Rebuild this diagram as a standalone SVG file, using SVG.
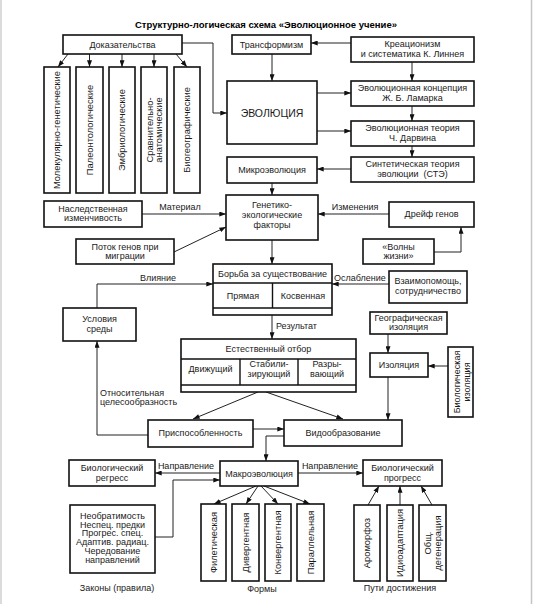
<svg xmlns="http://www.w3.org/2000/svg" width="533" height="604" viewBox="0 0 533 604">
<defs>
<style>
text{font-family:"Liberation Sans",Arial,sans-serif;font-size:9px;fill:#1a1a1a;text-anchor:middle}
.t{font-weight:bold;font-size:9.5px;fill:#000}
.big{font-size:10.5px}
.l{text-anchor:start}
.v{font-size:9.3px}
rect{fill:#fff;stroke:#111;stroke-width:1.6}
.div{stroke:#111;stroke-width:1.4;fill:none}
#connectors path{fill:none;stroke:#222;stroke-width:1}
</style>
<marker id="a" viewBox="0 0 8 6" refX="8" refY="3" markerWidth="7" markerHeight="5" orient="auto" markerUnits="userSpaceOnUse"><path d="M0,0 L8,3 L0,6 z" fill="#111"/></marker>
</defs>
<rect x="0" y="0" width="533" height="604" style="fill:#fff;stroke:none"/>
<line x1="1" y1="0" x2="1" y2="604" stroke="#cfcfcf" stroke-width="1.5"/>
<line x1="531.5" y1="0" x2="531.5" y2="604" stroke="#c4c4c4" stroke-width="1.5"/>

<text class="t" x="266" y="28">Структурно-логическая схема «Эволюционное учение»</text>

<g id="connectors" marker-end="url(#a)">
<path d="M68,54 L58,67"/>
<path d="M89.5,54 V67"/>
<path d="M122,54 V67"/>
<path d="M154,54 V67"/>
<path d="M176,54 L187,67"/>
<path d="M182,43 H213 V113 H227"/>
<path d="M351,43 H311"/>
<path d="M272,54 V81"/>
<path d="M317,93 H351"/>
<path d="M317,131 H351"/>
<path d="M412,62 V81"/>
<path d="M412,106 V121"/>
<path d="M412,146 V157"/>
<path d="M351,169 H317"/>
<path d="M272,183 V195"/>
<path d="M142,214 H226"/>
<path d="M174,252 L226,227"/>
<path d="M389,214 H318"/>
<path d="M434,252 H461 V227"/>
<path d="M272,240 V264"/>
<path d="M389,284 H332"/>
<path d="M97,308 V284 H213"/>
<path d="M272,315 V339"/>
<path d="M258,392 L193,419"/>
<path d="M266,392 L343,419"/>
<path d="M253,429 H284"/>
<path d="M148,435 H97 V341"/>
<path d="M284,436 H266 V461"/>
<path d="M388,334 V353"/>
<path d="M448,366 H428"/>
<path d="M388,377 V420"/>
<path d="M220,473 H155"/>
<path d="M155,537 H173 V480 H220"/>
<path d="M298,473 H363"/>
<path d="M256,486 L214,504"/>
<path d="M258,486 L246,504"/>
<path d="M261,486 L278,504"/>
<path d="M264,486 L310,504"/>
<path d="M368,505 L379,486"/>
<path d="M400,505 V486"/>
<path d="M432,505 L421,486"/>
</g>

<g id="labels">
<text x="180" y="210">Материал</text>
<text x="355" y="210">Изменения</text>
<text x="158" y="281">Влияние</text>
<text x="360" y="281">Ослабление</text>
<text class="l" x="276" y="329">Результат</text>
<text class="l" x="100" y="396">Относительная</text>
<text class="l" x="100" y="405">целесообразность</text>
<text x="186" y="469">Направление</text>
<text x="330" y="469">Направление</text>
<text x="117" y="591">Законы (правила)</text>
<text x="262" y="592">Формы</text>
<text x="400" y="591">Пути достижения</text>
</g>

<g id="dokazatelstva"><rect x="63" y="35" width="119" height="19"/><text x="122.5" y="47.5">Доказательства</text></g>
<g id="mol"><rect x="44" y="67" width="26" height="126"/><text class="v" transform="translate(57,130) rotate(-90)" y="3.3">Молекулярно-генетические</text></g>
<g id="paleo"><rect x="76" y="67" width="27" height="126"/><text class="v" transform="translate(89.5,130) rotate(-90)" y="3.3">Палеонтологические</text></g>
<g id="embrio"><rect x="109" y="67" width="26" height="126"/><text class="v" transform="translate(122,130) rotate(-90)" y="3.3">Эмбриологические</text></g>
<g id="sravn"><rect x="141" y="67" width="26" height="126"/><text class="v" transform="translate(154,130) rotate(-90)"><tspan x="0" y="-1.3">Сравнительно-</tspan><tspan x="0" y="8.3">анатомические</tspan></text></g>
<g id="biogeo"><rect x="174" y="67" width="26" height="126"/><text class="v" transform="translate(187,130) rotate(-90)" y="3.3">Биогеографические</text></g>

<g id="transform"><rect x="232" y="35" width="79" height="19"/><text x="271.5" y="47.5">Трансформизм</text></g>
<g id="kreac"><rect x="351" y="37" width="123" height="25"/><text x="412.5" y="46.5">Креационизм</text><text x="412.5" y="56.5">и систематика К. Линнея</text></g>
<g id="evol"><rect x="227" y="81" width="90" height="63"/><text class="big" x="272" y="117">ЭВОЛЮЦИЯ</text></g>
<g id="lamark"><rect x="351" y="81" width="123" height="25"/><text x="412.5" y="91">Эволюционная концепция</text><text x="412.5" y="101">Ж. Б. Ламарка</text></g>
<g id="darwin"><rect x="351" y="121" width="123" height="25"/><text x="412.5" y="131">Эволюционная теория</text><text x="412.5" y="140.5">Ч. Дарвина</text></g>
<g id="ste"><rect x="351" y="157" width="123" height="25"/><text x="412.5" y="167">Синтетическая теория</text><text x="412.5" y="176.5" xml:space="preserve">эволюции  (СТЭ)</text></g>
<g id="mikro"><rect x="227" y="157" width="90" height="26"/><text x="272" y="173">Микроэволюция</text></g>
<g id="genetiko"><rect x="226" y="195" width="92" height="45"/><text x="272" y="208">Генетико-</text><text x="272" y="218">экологические</text><text x="272" y="227.5">факторы</text></g>
<g id="nasl"><rect x="44" y="201" width="98" height="26"/><text x="93" y="212">Наследственная</text><text x="93" y="221">изменчивость</text></g>
<g id="potok"><rect x="76" y="239" width="98" height="25"/><text x="125" y="250">Поток генов при</text><text x="125" y="259">миграции</text></g>
<g id="dreif"><rect x="389" y="202" width="85" height="25"/><text x="431.5" y="217">Дрейф генов</text></g>
<g id="volny"><rect x="363" y="239" width="71" height="25"/><text x="398.5" y="250">«Волны</text><text x="398.5" y="259">жизни»</text></g>
<g id="borba"><rect x="213" y="264" width="119" height="51"/><path class="div" d="M213,283 H332 M272.5,283 V308 M213,308 H332"/><text x="272.5" y="277">Борьба за существование</text><text x="243" y="299">Прямая</text><text x="303" y="299">Косвенная</text></g>
<g id="vzaimo"><rect x="389" y="271" width="78" height="32"/><text x="428" y="284">Взаимопомощь,</text><text x="428" y="294">сотрудничество</text></g>
<g id="usloviya"><rect x="63" y="308" width="73" height="33"/><text x="99.5" y="322">Условия</text><text x="99.5" y="332">среды</text></g>
<g id="geo"><rect x="370" y="312" width="77" height="22"/><text x="408.5" y="321">Географическая</text><text x="408.5" y="330">изоляция</text></g>
<g id="otbor"><rect x="181" y="339" width="175" height="53"/><path class="div" d="M181,359 H356 M240,359 V385 M298,359 V385 M181,385 H356"/><text x="268.5" y="352">Естественный отбор</text><text x="210.5" y="372">Движущий</text><text x="269" y="367">Стабили-</text><text x="269" y="377">зирующий</text><text x="327" y="367">Разры-</text><text x="327" y="377">вающий</text></g>
<g id="izol"><rect x="370" y="353" width="58" height="24"/><text x="399" y="368">Изоляция</text></g>
<g id="biolizol"><rect x="448" y="347" width="25" height="70"/><text transform="translate(460.5,382) rotate(-90)"><tspan x="0" y="-0.5">Биологическая</tspan><tspan x="0" y="9">изоляция</tspan></text></g>
<g id="prisp"><rect x="148" y="420" width="105" height="27"/><text x="200.5" y="436">Приспособленность</text></g>
<g id="vidoobr"><rect x="284" y="420" width="118" height="26"/><text x="343" y="436">Видообразование</text></g>
<g id="makro"><rect x="220" y="461" width="78" height="25"/><text x="259" y="477">Макроэволюция</text></g>
<g id="regress"><rect x="69" y="460" width="86" height="26"/><text x="112" y="471">Биологический</text><text x="112" y="481">регресс</text></g>
<g id="progress"><rect x="363" y="460" width="79" height="26"/><text x="402.5" y="471">Биологический</text><text x="402.5" y="481">прогресс</text></g>
<g id="zakony"><rect x="70" y="505" width="85" height="68"/><text x="112.5" y="519">Необратимость</text><text x="112.5" y="527.7">Неспец. предки</text><text x="112.5" y="536.4">Прогрес. спец.</text><text x="112.5" y="545.1">Адаптив. радиац.</text><text x="112.5" y="553.8">Чередование</text><text x="112.5" y="562.5">направлений</text></g>
<g id="filet"><rect x="201" y="504" width="25" height="77"/><text class="v" transform="translate(213.5,542.5) rotate(-90)" y="3.3">Филетическая</text></g>
<g id="diverg"><rect x="232" y="504" width="27" height="77"/><text class="v" transform="translate(245.5,542.5) rotate(-90)" y="3.3">Дивергентная</text></g>
<g id="konverg"><rect x="265" y="504" width="26" height="77"/><text class="v" transform="translate(278,542.5) rotate(-90)" y="3.3">Конвергентная</text></g>
<g id="parall"><rect x="297" y="504" width="27" height="77"/><text class="v" transform="translate(310.5,542.5) rotate(-90)" y="3.3">Параллельная</text></g>
<g id="aromorfoz"><rect x="354" y="505" width="26" height="76"/><text class="v" transform="translate(367,543) rotate(-90)" y="3.3">Ароморфоз</text></g>
<g id="idioad"><rect x="387" y="505" width="26" height="76"/><text class="v" transform="translate(400,543) rotate(-90)" y="3.3">Идиоадаптация</text></g>
<g id="degen"><rect x="419" y="505" width="27" height="76"/><text class="v" transform="translate(432.5,543) rotate(-90)"><tspan x="0" y="-1.3">Общ.</tspan><tspan x="0" y="8.3">дегенерация</tspan></text></g>
</svg>
